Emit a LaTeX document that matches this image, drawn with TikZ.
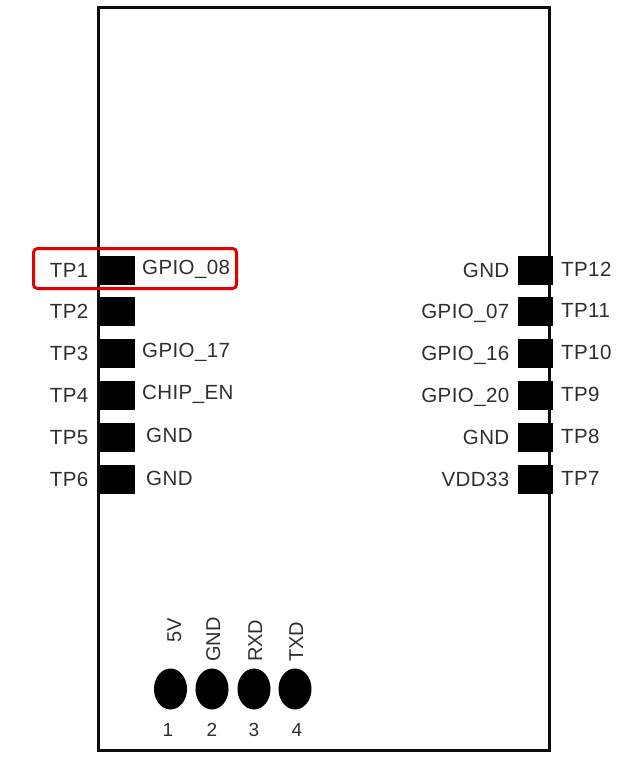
\documentclass[tikz,border=0pt]{standalone}
\usepackage{fontspec}
\setmainfont{Liberation Sans}
\newfontfamily\spaced[LetterSpace=2]{Liberation Sans}
\usetikzlibrary{shapes.geometric}
\tikzset{
  pad/.style={fill=black,draw=none,minimum width=35pt,minimum height=29pt,inner sep=0pt,outer sep=0pt},
  hole/.style={fill=black,draw=none,ellipse,minimum width=33pt,minimum height=41pt,inner sep=0pt},
  lbl/.style={text=black!82,font=\spaced\fontsize{20.5pt}{22pt}\selectfont,inner sep=0pt},
  num/.style={text=black!82,font=\fontsize{19pt}{20pt}\selectfont,inner sep=0pt},
  vert/.style={text=black!82,font=\fontsize{20pt}{22pt}\selectfont,inner sep=0pt,rotate=90,anchor=base west},
}
\begin{document}
\begin{tikzpicture}[x=1pt,y=-1pt]
\useasboundingbox (0,0) rectangle (621,771);
\draw[line width=3pt,black!95] (98.5,7) rectangle (549,750);
% left pads
\foreach \n/\y in {1/270,2/311.5,3/353.5,4/395.5,5/437.5,6/479.5}{
  \node[pad] (L\n) at (117,\y) {};
  \node[lbl,anchor=base east] (TL\n) at (88.5,\y+7) {TP\n};
}
\node[lbl,anchor=base west] (A1) at (142,274) {GPIO\_08};
\node[lbl,anchor=base west] (A3) at (142,357) {GPIO\_17};
\node[lbl,anchor=base west] (A4) at (142,399) {CHIP\_EN};
\node[lbl,anchor=base west] (A5) at (146,442) {GND};
\node[lbl,anchor=base west] (A6) at (146,485) {GND};
% right pads
\foreach \n/\y/\t in {12/270/GND,11/311.5/GPIO\_07,10/353.5/GPIO\_16,9/395.5/GPIO\_20,8/437.5/GND,7/479.5/VDD33}{
  \node[pad] (R\n) at (535,\y) {};
  \node[lbl,anchor=base west] (TR\n) at (561,\y+6) {TP\n};
  \node[lbl,anchor=base east] (B\n) at (509.5,\y+7) {\t};
}
% red box
\draw[line width=3pt,red!90!black,rounded corners=4pt] (33.5,248.5) rectangle (236.5,288.5);
% holes
\foreach \n/\x/\nx/\vx/\vy/\t in {1/170.5/168/181/643/5V,2/212/212/220/662/GND,3/254/254/262/662/RXD,4/295/297/303/662/TXD}{
  \node[hole] (H\n) at (\x,689) {};
  \node[num] (N\n) at (\nx,730) {\n};
  \node[vert] (V\n) at (\vx,\vy) {\t};
}
\end{tikzpicture}
\end{document}
